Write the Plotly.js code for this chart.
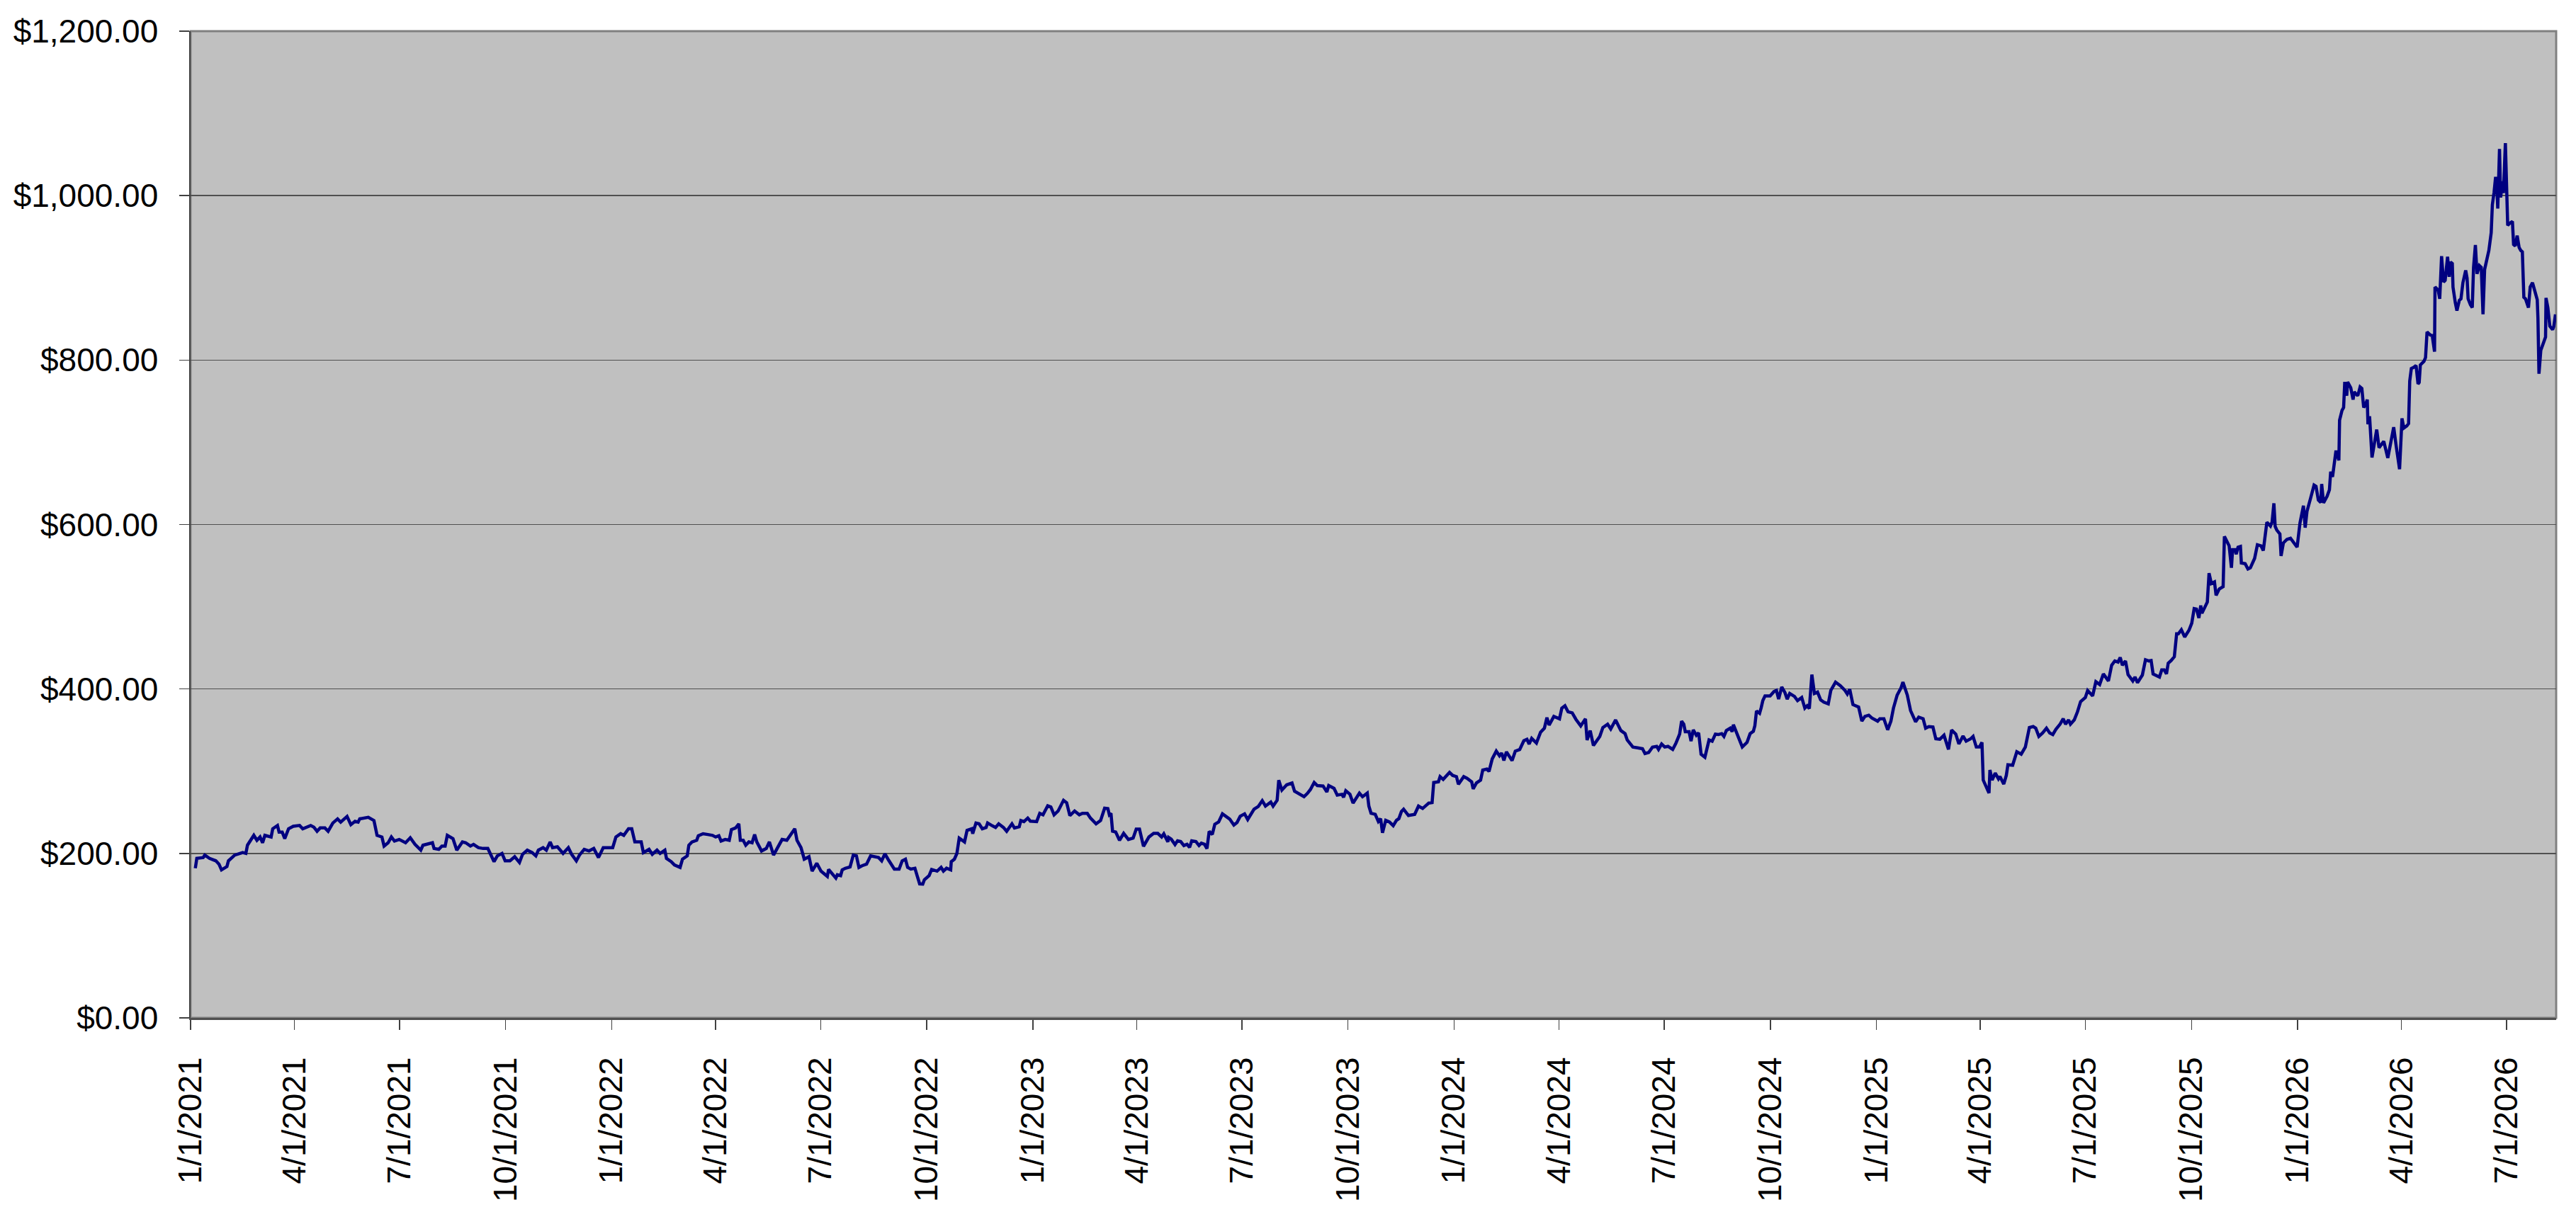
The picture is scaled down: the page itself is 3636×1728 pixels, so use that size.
<!DOCTYPE html>
<html>
<head>
<meta charset="utf-8">
<script src="https://cdn.plot.ly/plotly-3.0.1.min.js"></script>
<style>html,body{margin:0;padding:0;background:#fff;}#chart{width:3636px;height:1728px;}</style>
</head>
<body>
<div id="chart"></div>
<script>
// Start of the time axis and days elapsed since it for each observation
const startDate = '2021-01-01';
const endDate = '2026-08-13';

const days2021 = [4.1,5.4,10.9,12.3,16.4,21.9,24.6,26.8,31.5,32.8,38.3,45.2,47.9,49.3,54.8,57.5,60.2,62.4,64.4,69.8,71.2,75.3,76.7,79.4,81.6,84.9,89.0,94.5,97.2,104.1,106.8,109.6,112.3,116.4,119.2,123.3,127.4,130.1,135.6,138.9,142.5,145.2,146.6,154.0,158.9,161.6,165.8,167.7,171.2,174.0,176.7,180.8,186.3,190.4,194.5,199.5,201.4,209.6,211.0,215.1,217.8,220.6,222.5,227.4,230.7,235.6,238.4,242.5,245.2,249.4,253.5,257.6,263.0,265.8,269.9,272.6,276.8,280.9,285.0,287.7,291.8,296.0,299.2,301.4,305.5,308.3,311.6,313.7,317.9,322.8,327.4,330.2,334.3,337.0,341.1,345.3,349.4,353.5,357.6,365.8,368.6,372.7,375.4,379.5,382.3,385.0,390.5,392.4,397.3,400.1,404.2,406.9,411.0,412.4,416.5,419.3,424.2];
const vals2021 = [182,194,195,198,194,191,187,180,184,191,198,201,200,210,222,216,220,213,222,220,230,234,226,226,218,230,233,234,230,234,232,227,231,231,227,237,242,238,245,235,239,238,242,244,240,222,220,209,213,220,215,217,213,219,211,204,210,213,206,205,209,209,222,218,204,214,213,209,211,207,206,206,190,197,200,191,191,196,189,199,204,201,197,204,207,204,214,207,208,200,207,199,191,198,205,203,206,195,207,207,220,224,222,230,230,214,214,201,205,199,204,200,204,194,190,186,183];

const days2022 = [426.3,430.4,431.8,434.5,438.6,440.0,444.1,448.2,452.3,455.0,457.8,459.7,463.3,466.8,468.7,472.3,475.1,476.4,478.9,481.1,483.8,486.6,488.8,490.7,494.8,498.9,501.6,505.2,508.5,512.6,516.7,520.0,523.6,525.5,529.0,531.8,535.9,538.6,542.7,546.3,551.8,552.9,559.2,560.5,563.3,564.7,567.4,571.5,574.3,577.0,579.2,581.9,585.8,589.3,593.4,596.2,598.9,601.7,604.4,607.1,609.9,614.0,616.7,619.5,621.4,624.1,627.7,629.6,631.8,634.5,635.9,640.0,642.2,646.9,650.4,652.4,655.1,658.7,659.2,661.9,664.1,666.1,668.8,670.7,672.9,677.0,677.8,680.6,683.3,686.1,689.4,690.7,694.8,697.6,700.3,704.4,707.2,711.8,714.0,718.1,719.5,722.2,725.5,727.7,733.2,735.9,738.7,742.8,745.5,748.3,751.8,755.1,756.5,759.2,762.0,766.1,770.2,772.9,777.1,779.8,784.7,788.6,792.1,794.9,796.2,797.6,799.0,801.7,805.0,808.6,812.7,816.8,819.5,822.3,825.8,830.5,834.6,838.2,841.5,843.4,846.9];
const vals2022 = [193,197,210,214,216,221.5,224,223,222,220,221.5,215,217,216,229,231,236,216,216,210,214,213,223,214,203,206,214,198,206,217,216,223,230,216,207,193,196,178.5,188,178.5,172,180.5,170,174,173,180,182,183.6,198,197,183,185,187,197,196,195,191,199.5,193,187,181,181,191,193,183,181,182,173,163,162.7,168,173,180.5,178.5,183,178.5,182,180,190,193,200,218.7,216,214,228,230,224,237,236,230,231.6,237,233.6,231.6,236,231.6,227,236,231,232.4,240,238.7,243,239.3,238.7,248.8,247,258,256.5,247,251.6,261.7,264.6,261.7,246,251.6,247,248.8,248.8,243,236,240,255,254.5,247,248.8,227,226,216,224.4,217,218.7,229.6,229.6,208.6,220,224.4,224.4,220,223.8,214];

const days2023 = [847.6,849.8,853.1,855.3,858.0,860.8,863.5,865.7,867.6,871.2,873.9,875.9,878.6,880.8,882.7,885.4,887.6,890.9,894.2,897.8,900.5,904.1,906.8,909.6,913.4,916.1,918.3,921.6,925.2,928.7,931.5,936.1,938.1,941.6,943.0,945.7,949.9,954.5,956.7,960.8,964.9,967.7,970.4,973.7,976.4,981.4,984.7,986.3,990.9,993.7,997.8,999.2,1001.1,1004.7,1007.4,1012.9,1015.6,1019.7,1021.1,1023.0,1026.6,1029.3,1031.3,1032.9,1035.7,1038.9,1042.2,1045.0,1047.1,1049.3,1051.2,1055.4,1060.8,1064.1,1067.7,1073.1,1075.9,1077.3,1081.4,1082.8,1085.5,1091.0,1093.7,1097.0,1098.7,1103.3,1106.1,1110.2,1111.5,1114.3,1117.9,1119.8,1123.3,1125.2,1128.0,1131.5,1134.3,1136.2,1138.1,1140.3,1145.2,1148.0,1151.8,1155.4,1158.1,1160.0,1162.2,1166.3,1169.9,1173.2,1175.4,1177.3,1181.4,1186.3,1188.3,1191.0,1193.7,1197.3,1200.6,1204.7,1208.8,1210.2,1212.9,1215.7,1221.2,1223.9,1228.0,1230.7,1234.9,1239.5,1243.1,1245.0,1249.9,1254.0,1258.2,1260.4,1263.6,1266.9,1270.5];
const vals2023 = [219.4,217.4,210.8,215.4,214.5,209.6,211.1,207.3,215.4,214.5,209.6,212.5,211.1,205.9,226.8,223.1,235.5,238.3,248.1,244.1,241.8,234.6,237.5,245.2,248.1,241.2,246.9,253.8,257.0,264.2,257.6,262.4,257.6,264.7,289.1,277.1,283.4,285.7,275.6,272.8,269.0,272.8,277.6,286.3,282.5,282.0,274.8,282.5,279.1,271.0,271.9,268.2,276.2,271.9,261.3,273.3,269.0,273.3,257.6,248.9,247.5,238.9,242.3,225.1,240.3,238.3,233.7,240.3,242.3,251.0,253.8,246.1,247.5,257.6,254.7,261.3,261.9,286.3,287.1,293.4,290.0,298.6,294.9,293.4,284.0,293.4,291.4,287.1,278.5,285.7,289.1,301.5,302.6,299.7,315.0,324.4,318.7,322.1,313.0,323.6,313.0,324.4,326.4,337.0,338.8,333.0,339.9,334.2,347.4,352.3,365.2,356.0,366.6,363.7,376.7,379.5,372.3,370.9,362.9,355.1,363.7,337.9,349.4,331.3,342.2,353.1,357.1,351.4,362.3,349.4,345.7,337.9,329.3,328.4,327.3,321.5,322.7,329.3,330.2];

const days2024 = [1272.1,1274.8,1277.5,1280.3,1284.4,1287.1,1290.4,1292.1,1294.0,1295.3,1298.6,1300.3,1302.2,1304.9,1306.9,1309.0,1312.3,1314.0,1315.9,1318.6,1321.4,1324.1,1326.9,1328.8,1330.9,1334.3,1335.9,1337.0,1340.6,1344.7,1348.8,1351.5,1354.3,1355.6,1357.0,1359.7,1361.1,1362.5,1364.4,1368.8,1372.1,1374.3,1376.2,1378.9,1381.7,1383.6,1385.8,1389.9,1392.6,1396.2,1398.9,1400.9,1402.8,1405.0,1407.2,1409.9,1412.6,1415.4,1419.2,1421.4,1425.5,1429.6,1433.7,1435.7,1437.8,1440.6,1445.5,1448.3,1451.0,1454.3,1457.0,1462.0,1463.9,1467.4,1470.7,1473.5,1475.7,1478.9,1482.2,1483.9,1487.7,1490.5,1494.9,1497.6,1501.4,1503.6,1506.4,1509.9,1512.4,1515.9,1519.5,1523.4,1526.1,1529.7,1532.4,1536.0,1538.7,1542.6,1544.7,1547.5,1550.2,1552.4,1553.5,1556.3,1558.5,1559.3,1561.2,1563.9,1566.7,1568.0,1571.3,1573.5,1574.9,1579.0,1582.6,1586.4,1590.0,1593.5,1596.8,1599.0,1601.7,1605.0,1608.3,1611.1,1613.8,1616.5,1620.1,1622.8,1624.8,1627.5,1629.1,1632.4,1635.2,1637.9,1642.0,1644.0,1648.3,1651.1,1654.4,1657.6,1662.0,1664.8,1667.5,1670.3,1672.2,1674.1,1676.8,1679.0,1683.1,1685.0,1687.2,1691.4,1694.1];
const vals2024 = [326.5,333.1,329.4,330.2,326.5,333.7,345.1,360.9,357.2,348.0,348.0,336.5,350.3,343.7,346.6,320.7,317.0,326.5,338.0,336.5,345.1,344.6,345.7,342.3,349.4,352.3,348.0,356.6,343.7,329.4,335.1,345.7,348.6,355.2,373.3,370.4,377.3,385.9,391.6,391.6,396.8,398.2,387.6,402.5,395.4,387.6,394.5,391.0,385.9,389.6,376.7,379.6,376.1,417.5,394.5,396.2,386.7,383.9,381.9,398.2,408.3,404.0,398.2,393.9,399.7,381.0,378.1,360.9,366.7,368.1,364.7,360.9,363.8,363.8,350.3,360.9,376.7,392.5,401.1,408.3,392.5,373.8,360.1,365.8,363.8,352.3,354.3,353.7,339.4,338.8,343.7,326.5,350.0,345.1,333.1,342.8,336.5,339.4,342.3,329.4,329.4,335.1,289.2,281.4,273.4,301.5,289.2,297.8,290.6,293.5,284.3,294.9,307.8,307.3,323.6,320.7,329.4,353.2,354.3,352.3,342.3,346.6,352.3,346.6,344.6,350.9,357.2,363.8,357.2,362.4,357.2,362.4,372.4,384.7,389.6,398.2,391.6,408.8,405.4,418.3,409.7,428.9,434.1,432.7,438.4,428.9,434.1,417.5,409.7,414.6,407.7,416.9,435.5];

const days2025 = [1697.0,1699.0,1700.7,1703.5,1706.2,1708.2,1710.3,1712.3,1713.8,1716.4,1719.1,1721.1,1722.6,1725.2,1728.1,1731.8,1734.2,1736.3,1738.3,1740.4,1742.0,1743.0,1745.7,1747.7,1749.2,1751.2,1753.9,1755.3,1758.0,1761.4,1762.5,1764.9,1766.6,1768.6,1769.6,1771.7,1772.7,1774.3,1776.4,1777.2,1780.5,1782.9,1785.0,1788.7,1791.1,1794.2,1796.2,1799.3,1802.4,1803.8,1805.4,1806.5,1807.9,1810.6,1811.6,1813.6,1816.7,1819.8,1822.8,1825.5,1828.0,1831.0,1832.5,1834.1,1837.2,1840.2,1841.9,1843.9,1846.0,1846.8,1848.4,1851.5,1853.5,1854.6,1856.2];
const vals2025 = [434.1,434.6,418.3,416.3,414.5,423.2,423.2,418.3,431.2,434.6,439.2,467.1,467.1,472.0,463.3,471.4,480.0,497.8,497.2,486.3,501.5,492.0,500.1,505.8,540.8,528.2,530.2,513.8,521.6,524.5,585.6,579.9,574.1,547.4,569.5,569.5,563.8,572.4,573.3,553.2,552.3,546.0,547.4,558.9,575.3,574.1,568.4,602.8,598.2,602.8,625.8,597.6,593.3,588.5,561.8,577.6,581.9,583.3,578.1,572.4,601.9,622.9,596.2,616.3,632.1,647.9,646.4,629.8,626.9,649.3,626.3,634.4,642.1,664.2,657.9];

const days2026 = [1859.2,1861.7,1862.3,1864.4,1865.8,1866.8,1868.5,1869.3,1872.0,1874.0,1875.0,1878.1,1880.1,1881.6,1883.2,1884.8,1886.3,1886.9,1888.3,1890.4,1892.4,1894.5,1896.5,1898.6,1900.6,1904.1,1906.7,1909.2,1911.5,1914.3,1916.4,1918.0,1920.5,1922.1,1923.1,1924.5,1926.6,1928.6,1930.3,1931.3,1932.3,1935.4,1936.8,1938.1,1940.9,1942.6,1944.6,1945.0,1947.7,1949.1,1950.7,1952.4,1953.8,1955.9,1957.3,1958.5,1960.0,1960.6,1962.6,1964.0,1966.1,1967.5,1969.2,1971.6,1972.8,1973.7,1975.7,1977.3,1978.4,1980.0,1981.4,1983.5,1985.1,1986.6,1988.0,1990.0,1991.7,1993.7,1994.7,1996.2,1997.4,1998.2,1999.4,2000.9,2001.9,2003.5,2004.3,2006.0,2007.0,2008.0,2009.7,2012.1,2013.1,2014.6,2016.2,2017.9,2019.3,2020.7,2022.0,2023.4,2026.0,2027.5,2029.5,2031.6,2033.6,2034.2,2035.1,2036.7,2038.7,2040.8,2041.2,2042.8,2044.5,2046.9,2047.9,2049.4];
const vals2026 = [690,678.0,726.9,738.7,742.3,773.4,756.6,773.4,766.2,751.9,761.2,756.6,767.3,765.5,742.3,745.9,751.9,721.9,731.6,681.6,697.6,715.5,693.4,697.6,701.2,680.9,703.0,718.4,694.1,667.3,729.1,717.3,719.8,722.7,774.5,789.8,791.2,793.4,770.9,772.7,794.1,798.4,803.0,834.1,830.5,829.8,810.2,888.8,885.2,874.5,926.3,894.9,897.0,925.6,901.3,919.1,917.4,888.8,869.8,860.2,872.7,874.5,894.1,909.1,899.5,874.5,867.3,863.8,912.7,939.9,904.9,914.9,912.7,855.6,910.2,922.7,933.4,954.9,988.8,1004.2,1021.0,1021.0,984.2,1056.7,997.7,1017.4,1003.1,1063.8,1015.6,963.8,966.3,968.5,940.6,938.8,951.3,937.0,933.4,931.7,876.3,874.5,863.8,888.8,894.1,883.4,873.4,851.3,783.4,812.0,820.9,828.0,875.6,863.8,841.3,837.0,840.6,855.6];

const days = [].concat(days2021, days2022, days2023, days2024, days2025, days2026);
const prices = [].concat(vals2021, vals2022, vals2023, vals2024, vals2025, vals2026);

const yTicks = [0, 200, 400, 600, 800, 1000, 1200];

const startMs = Date.UTC(2021, 0, 1);
const xDates = days.map(d => startMs + Math.round(d * 86400000));

const font = {family: 'Liberation Sans, Arial, sans-serif', size: 46, color: '#000000'};

const trace = {
  x: xDates,
  y: prices,
  type: 'scatter',
  mode: 'lines',
  line: {color: '#000080', width: 4.5},
  hoverinfo: 'skip'
};

const layout = {
  width: 3636,
  height: 1728,
  autosize: false,
  margin: {l: 269, r: 28, t: 44, b: 291, pad: 0},
  paper_bgcolor: '#ffffff',
  plot_bgcolor: '#c0c0c0',
  showlegend: false,
  font: font,
  xaxis: {
    type: 'date',
    range: [startDate, endDate],
    tick0: startDate,
    dtick: 'M3',
    tickformat: '%-m/%-d/%Y',
    tickangle: -90,
    ticks: 'outside',
    ticklen: 14,
    tickwidth: 1.5,
    tickcolor: '#404040',
    ticklabelstandoff: 20,
    showgrid: false,
    zeroline: false,
    showline: true,
    linecolor: '#505050',
    linewidth: 3,
    tickfont: font,
    fixedrange: true
  },
  yaxis: {
    range: [0, 1200],
    tickmode: 'array',
    tickvals: yTicks,
    tickformat: '$,.2f',
    ticks: 'outside',
    ticklen: 14,
    tickwidth: 1.5,
    tickcolor: '#404040',
    ticklabelstandoff: 20,
    showgrid: true,
    gridcolor: '#505050',
    gridwidth: 1.5,
    zeroline: false,
    showline: true,
    linecolor: '#404040',
    linewidth: 2.5,
    tickfont: font,
    fixedrange: true
  },
  shapes: [{
    type: 'rect', xref: 'paper', yref: 'paper', x0: 0, x1: 1, y0: 0, y1: 1,
    line: {color: '#808080', width: 3}, layer: 'below'
  }]
};

Plotly.newPlot('chart', [trace], layout, {displayModeBar: false, staticPlot: true});
</script>
</body>
</html>
